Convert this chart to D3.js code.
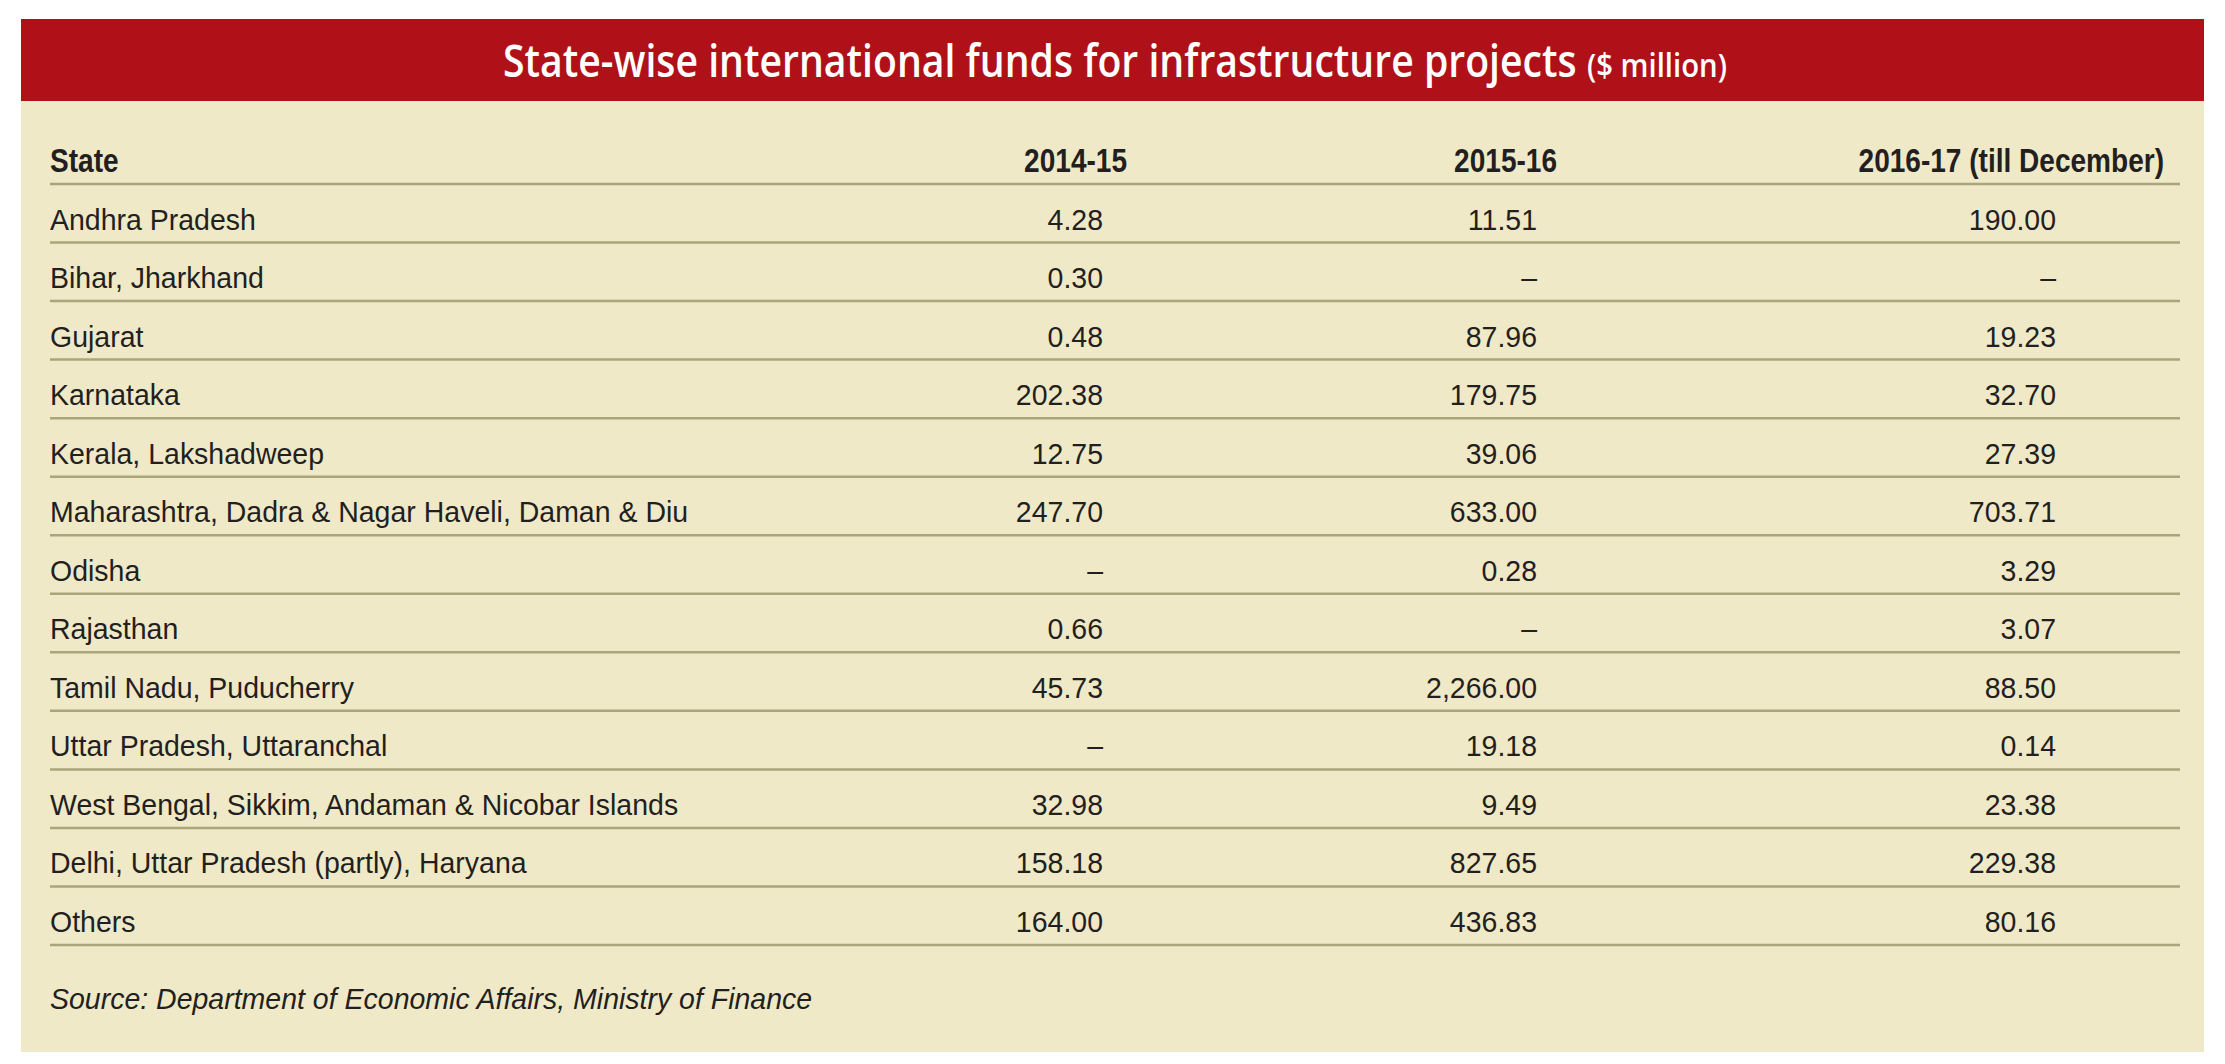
<!DOCTYPE html>
<html>
<head>
<meta charset="utf-8">
<script src="https://cdn.jsdelivr.net/npm/d3@7"></script>
<style>
  html, body { margin: 0; padding: 0; background: #ffffff; }
  svg { display: block; }
</style>
</head>
<body>
<svg id="chart" width="2225" height="1064"></svg>
<script>
// ---------------- DATA ----------------
const titleMain = "State-wise international funds for infrastructure projects";
const titleUnit = "($ million)";
const columnHeaders = ["State", "2014-15", "2015-16", "2016-17 (till December)"];
const states = [
  "Andhra Pradesh",
  "Bihar, Jharkhand",
  "Gujarat",
  "Karnataka",
  "Kerala, Lakshadweep",
  "Maharashtra, Dadra & Nagar Haveli, Daman & Diu",
  "Odisha",
  "Rajasthan",
  "Tamil Nadu, Puducherry",
  "Uttar Pradesh, Uttaranchal",
  "West Bengal, Sikkim, Andaman & Nicobar Islands",
  "Delhi, Uttar Pradesh (partly), Haryana",
  "Others"
];
const funds2014_15 = [4.28, 0.30, 0.48, 202.38, 12.75, 247.70, null, 0.66, 45.73, null, 32.98, 158.18, 164.00];
const funds2015_16 = [11.51, null, 87.96, 179.75, 39.06, 633.00, 0.28, null, 2266.00, 19.18, 9.49, 827.65, 436.83];
const funds2016_17 = [190.00, null, 19.23, 32.70, 27.39, 703.71, 3.29, 3.07, 88.50, 0.14, 23.38, 229.38, 80.16];
const sourceNote = "Source: Department of Economic Affairs, Ministry of Finance";

// ---------------- LAYOUT ----------------
const W = 2225, H = 1064;
const colors = {
  red: "#b01118",
  beige: "#efe9c8",
  rule: "#aaa57b",
  text: "#231f20",
  white: "#ffffff"
};
const panel = { x0: 21, x1: 2204, bandTop: 19, bandBottom: 101, bottom: 1052 };
const ruleX = [50, 2180];
const fmt = d3.format(",.2f");
const fmtVal = v => (v === null || v === undefined) ? "\u2013" : fmt(v);

const series = [funds2014_15, funds2015_16, funds2016_17];
const numRight = d3.scaleOrdinal().domain([0, 1, 2]).range([1103, 1537, 2056]);
const headRight = d3.scaleOrdinal().domain([1, 2, 3]).range([1127, 1557, 2164]);
const ruleY = d3.scaleLinear().domain([0, states.length]).range([184, 945]);

const FONT = "'Liberation Sans', Arial, sans-serif";
const TITLE_FONT = "'Open Sans', 'Liberation Sans', sans-serif";
const bodySize = 30, bodySX = 0.95;
const headSize = 33, headSX = 0.85;

const svg = d3.select("#chart");

svg.append("rect").attr("x", 0).attr("y", 0).attr("width", W).attr("height", H).attr("fill", colors.white);

svg.append("rect")
  .attr("x", panel.x0).attr("y", panel.bandTop)
  .attr("width", panel.x1 - panel.x0).attr("height", panel.bottom - panel.bandTop)
  .attr("fill", colors.beige);

svg.append("rect")
  .attr("x", panel.x0).attr("y", panel.bandTop)
  .attr("width", panel.x1 - panel.x0).attr("height", panel.bandBottom - panel.bandTop)
  .attr("fill", colors.red);

// title: semibold humanist face condensed to the reference's measured widths
function fitText(sel, x, y, targetW) {
  const len = sel.node().getComputedTextLength() || targetW;
  sel.attr("transform", `translate(${x},${y}) scale(${targetW / len},1)`);
}
const tMain = svg.append("text")
  .attr("font-family", TITLE_FONT).attr("font-weight", 600).attr("font-size", 46)
  .attr("fill", colors.white)
  .text(titleMain);
fitText(tMain, 503, 77, 1074);
const tUnit = svg.append("text")
  .attr("font-family", TITLE_FONT).attr("font-weight", 600).attr("font-size", 32)
  .attr("fill", colors.white)
  .text(titleUnit);
fitText(tUnit, 1587, 77, 140);

// rules
svg.append("g").selectAll("line")
  .data(d3.range(0, states.length + 1))
  .join("line")
  .attr("x1", ruleX[0]).attr("x2", ruleX[1])
  .attr("y1", d => ruleY(d)).attr("y2", d => ruleY(d))
  .attr("stroke", colors.rule).attr("stroke-width", 2.5);

// header row
const headG = svg.append("g")
  .attr("font-family", FONT).attr("font-weight", 700).attr("font-size", headSize)
  .attr("fill", colors.text);
headG.append("text")
  .attr("transform", `translate(${ruleX[0]},${ruleY(0) - 12}) scale(${headSX},1)`)
  .text(columnHeaders[0]);
headG.selectAll("text.h")
  .data([1, 2, 3])
  .join("text").attr("class", "h")
  .attr("text-anchor", "end")
  .attr("transform", d => `translate(${headRight(d)},${ruleY(0) - 12}) scale(${headSX},1)`)
  .text(d => columnHeaders[d]);

// body rows
const bodyG = svg.append("g")
  .attr("font-family", FONT).attr("font-size", bodySize)
  .attr("fill", colors.text);

const rows = bodyG.selectAll("g.row")
  .data(states.map((s, i) => ({ s, i })))
  .join("g").attr("class", "row");

rows.append("text")
  .attr("transform", d => `translate(${ruleX[0]},${ruleY(d.i + 1) - 13}) scale(${bodySX},1)`)
  .text(d => d.s);

rows.selectAll("text.v")
  .data(d => series.map((arr, c) => ({ c, v: arr[d.i], i: d.i })))
  .join("text").attr("class", "v")
  .attr("text-anchor", "end")
  .attr("transform", d => `translate(${numRight(d.c)},${ruleY(d.i + 1) - 13}) scale(${bodySX},1)`)
  .text(d => fmtVal(d.v));

// source
svg.append("text")
  .attr("font-family", FONT).attr("font-style", "italic").attr("font-size", bodySize)
  .attr("fill", colors.text)
  .attr("transform", `translate(${ruleX[0]},1009) scale(${bodySX},1)`)
  .text(sourceNote);
</script>
</body>
</html>
